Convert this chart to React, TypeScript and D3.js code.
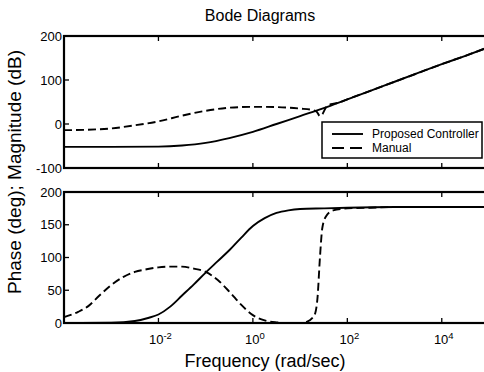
import React from "react";
import * as d3 from "d3";

// Frequency samples (log10 rad/sec) and responses for the two controllers
const magLogW = [-4, -3, -2, -1.5, -1, -0.5, 0, 0.5, 1, 1.5, 2, 2.5, 3, 3.5, 4, 4.5, 5];
const magProposed = [-52, -52, -51.5, -49, -43, -32, -18, 0, 18, 36, 56, 76, 96, 116, 136, 155, 175];

const magManualLogW = [-4, -3.5, -3, -2.5, -2, -1.5, -1, -0.5, 0, 0.5, 1, 1.25, 1.35, 1.42, 1.47, 1.55, 1.65, 1.8, 2, 2.5, 3, 3.5, 4, 4.5, 5];
const magManual = [-14, -13, -10, -3, 6, 19, 30, 37, 39, 38.5, 35, 32, 28, 18, 22, 38, 45, 48, 56, 76, 96, 116, 136, 155, 175];

const phaseLogW = [-4, -3, -2.5, -2.2, -2, -1.75, -1.5, -1.25, -1, -0.75, -0.5, -0.25, 0, 0.25, 0.5, 0.75, 1, 1.5, 2, 3, 4, 5];
const phaseProposed = [0, 0.5, 3, 8, 13, 25, 42, 59, 77, 94, 111, 130, 148, 160, 168, 172, 174, 175, 176, 177, 177, 177];

const phaseManualLogW = [-4, -3.7, -3.5, -3.25, -3, -2.75, -2.5, -2.25, -2, -1.75, -1.5, -1.25, -1, -0.75, -0.5, -0.25, 0, 0.25, 0.5, 0.75, 1, 1.15, 1.25, 1.32, 1.37, 1.42, 1.47, 1.55, 1.7, 2, 2.5, 3, 4, 5];
const phaseManual = [9, 17, 25, 42, 58, 70, 78, 82, 85, 86, 86, 83, 78, 66, 48, 28, 12, 4, 1, 0, 0, 2, 7, 15, 40, 100, 145, 163, 172, 175, 176, 177, 177, 177];

const freqTicks = [1e-2, 1e0, 1e2, 1e4];
const freqTickExp = ["-2", "0", "2", "4"];
const magTicks = [-100, 0, 100, 200];
const phaseTicks = [0, 50, 100, 150, 200];

const legendLabels = ["Proposed Controller", "Manual"];

const FONT = "'Liberation Sans', Arial, Helvetica, sans-serif";

export default function App() {
  const W = 484;
  const H = 372;
  const left = 64;
  const right = 489;

  const x = d3.scaleLog().domain([1e-4, 1e5]).range([left, right]);
  const yMag = d3.scaleLinear().domain([-100, 200]).range([168, 36]);
  const yPh = d3.scaleLinear().domain([0, 200]).range([323, 192]);

  const pts = (lw: number[], v: number[]) => lw.map((l, i) => [Math.pow(10, l), v[i]] as [number, number]);

  const lineMag = d3.line<[number, number]>().x((d) => x(d[0])).y((d) => yMag(d[1])).curve(d3.curveMonotoneX);
  const linePh = d3.line<[number, number]>().x((d) => x(d[0])).y((d) => yPh(d[1])).curve(d3.curveMonotoneX);

  const dash = "8,4";
  const lw = 1.9;

  const axesFrame = (y0: number, y1: number, yTicks: number[], ys: (v: number) => number, showX: boolean, id: string) => (
    <g key={id}>
      <rect x={left} y={y0} width={right - left} height={y1 - y0} fill="none" stroke="#000" strokeWidth={2.2} />
      {freqTicks.map((t, i) => (
        <g key={"xt" + i}>
          <line x1={x(t)} x2={x(t)} y1={y1} y2={y1 - 5} stroke="#000" strokeWidth={1.3} />
          <line x1={x(t)} x2={x(t)} y1={y0} y2={y0 + 5} stroke="#000" strokeWidth={1.3} />
          {showX && (
            <text x={x(t) + 2} y={344} textAnchor="middle" fontFamily={FONT} fontSize={13}>
              10
              <tspan dy={-5} fontSize={9.5}>
                {freqTickExp[i]}
              </tspan>
            </text>
          )}
        </g>
      ))}
      {yTicks.map((t, i) => (
        <g key={"yt" + i}>
          <line x1={left} x2={left + 5} y1={ys(t)} y2={ys(t)} stroke="#000" strokeWidth={1.3} />
          <line x1={right} x2={right - 5} y1={ys(t)} y2={ys(t)} stroke="#000" strokeWidth={1.3} />
          <text x={left - 2} y={ys(t) + 4.5} textAnchor="end" fontFamily={FONT} fontSize={13}>
            {t}
          </text>
        </g>
      ))}
    </g>
  );

  const legX = 322;
  const legY = 122;
  const legW = 160;
  const legH = 36;

  return (
    <svg width={W} height={H} style={{ position: "absolute", left: 0, top: 0, background: "#fff" }}>
      <rect x={0} y={0} width={W} height={H} fill="#fff" />
      <text x={260} y={21} textAnchor="middle" fontFamily={FONT} fontSize={16}>
        Bode Diagrams
      </text>

      {/* magnitude */}
      <path d={lineMag(pts(magManualLogW, magManual)) || ""} fill="none" stroke="#000" strokeWidth={lw} strokeDasharray={dash} />
      <path d={lineMag(pts(magLogW, magProposed)) || ""} fill="none" stroke="#000" strokeWidth={lw} />
      {axesFrame(36, 168, magTicks, yMag, false, "mag")}

      {/* legend */}
      <rect x={legX} y={legY} width={legW} height={legH} fill="#fff" stroke="#000" strokeWidth={1.5} />
      <line x1={332} x2={363} y1={134} y2={134} stroke="#000" strokeWidth={lw} />
      <line x1={332} x2={363} y1={148} y2={148} stroke="#000" strokeWidth={lw} strokeDasharray="12,6" />
      <text x={372} y={138} fontFamily={FONT} fontSize={12}>
        {legendLabels[0]}
      </text>
      <text x={372} y={152} fontFamily={FONT} fontSize={12}>
        {legendLabels[1]}
      </text>

      {/* phase */}
      <path d={linePh(pts(phaseManualLogW, phaseManual)) || ""} fill="none" stroke="#000" strokeWidth={lw} strokeDasharray={dash} />
      <path d={linePh(pts(phaseLogW, phaseProposed)) || ""} fill="none" stroke="#000" strokeWidth={lw} />
      {axesFrame(192, 323, phaseTicks, yPh, true, "ph")}

      <text x={265} y={367} textAnchor="middle" fontFamily={FONT} fontSize={18}>
        Frequency (rad/sec)
      </text>
      <text transform="translate(21,172) rotate(-90)" textAnchor="middle" fontFamily={FONT} fontSize={19}>
        Phase (deg); Magnitude (dB)
      </text>
    </svg>
  );
}
